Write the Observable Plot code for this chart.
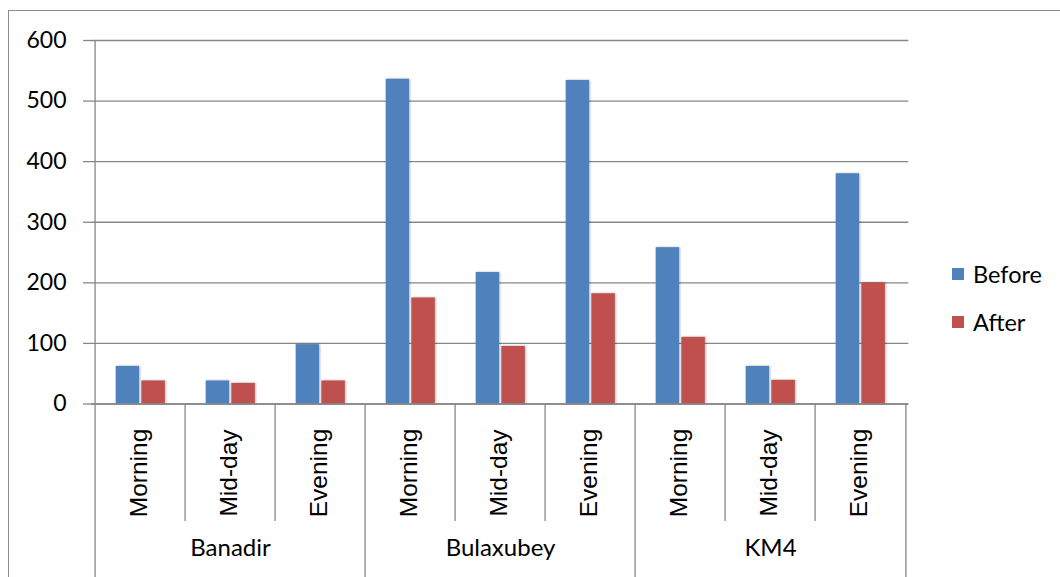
<!DOCTYPE html>
<html>
<head>
<meta charset="utf-8">
<script src="https://cdn.jsdelivr.net/npm/d3@7"></script>
<script src="https://cdn.jsdelivr.net/npm/@observablehq/plot@0.6"></script>
<style>
  body { margin: 0; background: #fff; }
  #wrap { position: relative; width: 1060px; height: 577px; overflow: hidden; background: #fff; }
  #border { position: absolute; left: 8px; top: 10px; width: 2000px; height: 2000px;
            border-left: 1.5px solid #8c8c8c; border-top: 1.5px solid #8c8c8c; }
  #chart { position: absolute; left: 0; top: 0; }
  #chart g[aria-label="bar"] rect { filter: drop-shadow(1px 0px 1.2px rgba(0,0,0,0.3)); }
  .leg { position: absolute; left: 952px; display: flex; align-items: center;
         font-family: Lato, sans-serif; font-size: 23.5px; color: #000; }
  .leg .sw { width: 12px; height: 12px; margin-right: 9px; }
</style>
</head>
<body>
<div id="wrap">
  <div id="border"></div>
  <div id="chart"></div>
  <div class="leg" style="top:260px;"><div class="sw" style="background:#4F81BD"></div><span id="l0"></span></div>
  <div class="leg" style="top:308px;"><div class="sw" style="background:#C0504D"></div><span id="l1"></span></div>
</div>
<script>
const locations = ["Banadir", "Bulaxubey", "KM4"];
const times = ["Morning", "Mid-day", "Evening"];
const seriesNames = ["Before", "After"];
const beforeValues = [62, 38, 98, 536, 217, 534, 258, 62, 380];
const afterValues  = [38, 34, 38, 175, 95, 182, 110, 39, 200];
const yTicks = [0, 100, 200, 300, 400, 500, 600];
const seriesColors = ["#4F81BD", "#C0504D"];

const rows = [];
locations.forEach((loc, li) => times.forEach((t, ti) => {
  const i = li * times.length + ti;
  rows.push({key: loc + "|" + t, loc, time: t, before: beforeValues[i], after: afterValues[i], ti});
}));
const keys = rows.map(d => d.key);

const W = 1060, H = 577, ml = 91, mr = 151.7, mt = 40, mb = 173.5;
const bw = (W - ml - mr) / keys.length;
const innerH = H - mt - mb;
const gray = "#878787";

const chart = Plot.plot({
  width: W, height: H,
  marginLeft: ml, marginRight: mr, marginTop: mt, marginBottom: mb,
  style: {fontFamily: "Lato, sans-serif", background: "transparent", overflow: "visible"},
  x: {domain: keys, padding: 0, axis: null},
  y: {domain: [0, 600], axis: null},
  marks: [
    Plot.gridY(yTicks, {stroke: gray, strokeOpacity: 1, strokeWidth: 1.3}),
    Plot.axisY(yTicks, {tickSize: 8, tickPadding: 17, fontSize: 23, stroke: gray, strokeWidth: 1.3, fill: "#000"}),
    Plot.barY(rows, {x: "key", y: "before", fill: seriesColors[0], insetLeft: 20.7, insetRight: 46}),
    Plot.barY(rows, {x: "key", y: "after", fill: seriesColors[1], insetLeft: 46.3, insetRight: 20.2}),
    // left axis line
    Plot.ruleX([keys[0]], {x: d => d, dx: -bw / 2, stroke: gray, strokeWidth: 1.3, insetBottom: -mb}),
    // sub-category separators
    Plot.ruleX(rows.filter(d => d.ti > 0), {x: "key", dx: -bw / 2, stroke: gray, strokeWidth: 1.3,
      insetTop: innerH, insetBottom: -117.5}),
    // group separators
    Plot.ruleX(rows.filter((d, i) => d.ti === 0 && i > 0), {x: "key", dx: -bw / 2, stroke: gray, strokeWidth: 1.3,
      insetTop: innerH, insetBottom: -mb}),
    Plot.ruleX([keys[keys.length - 1]], {x: d => d, dx: bw / 2, stroke: gray, strokeWidth: 1.3,
      insetTop: innerH, insetBottom: -mb}),
    Plot.ruleY([0], {stroke: gray, strokeWidth: 1.3}),
    // time labels
    Plot.text(rows, {x: "key", text: "time", frameAnchor: "bottom", rotate: -90, dy: 69, dx: 6,
      fontSize: 24.5, fontFamily: "Liberation Sans, Arial, sans-serif", fill: "#000"}),
    // group labels
    Plot.text(rows.filter(d => d.ti === 1), {x: "key", text: "loc", frameAnchor: "bottom", dy: 152,
      fontSize: 24, fill: "#000"})
  ]
});
document.getElementById("chart").appendChild(chart);
document.getElementById("l0").textContent = seriesNames[0];
document.getElementById("l1").textContent = seriesNames[1];
</script>
</body>
</html>
